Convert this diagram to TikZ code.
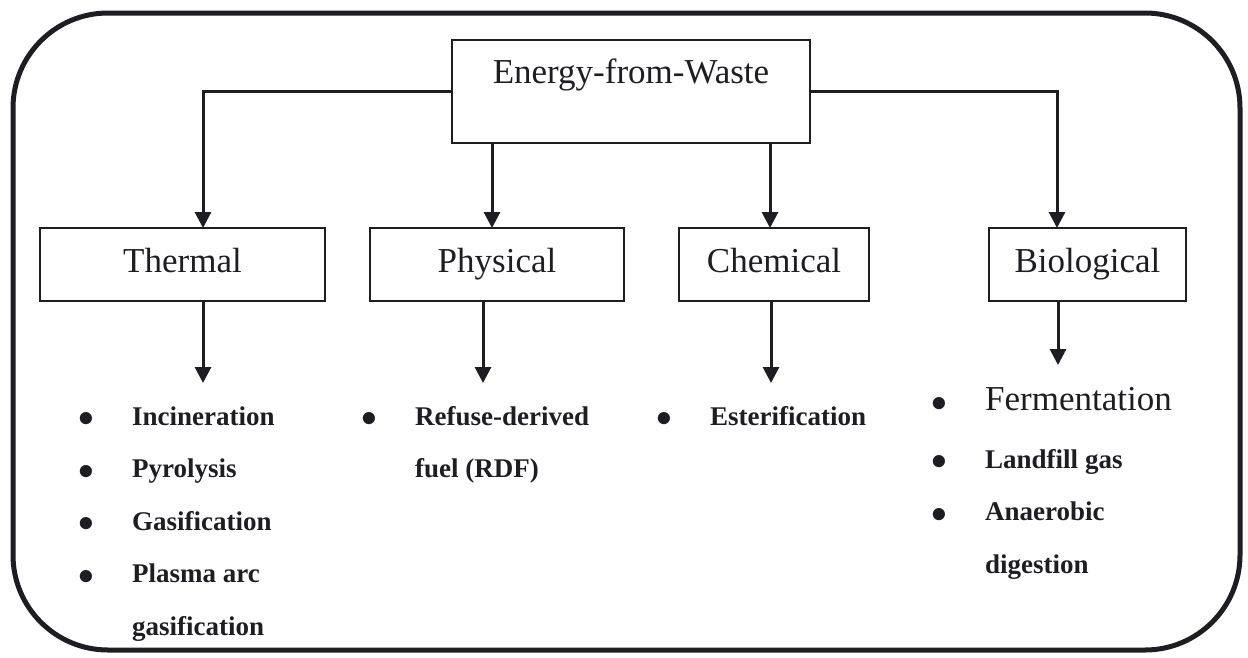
\documentclass[tikz,border=0pt]{standalone}
\usepackage{fontspec}
\setmainfont{Liberation Serif}
\usetikzlibrary{positioning,arrows.meta}
\definecolor{ink}{RGB}{30,30,34}
\newcommand\itembullet{\hspace*{-4pt}\raisebox{-8.5pt}{\fontsize{45}{45}\selectfont\textbullet}}

\begin{document}
\begin{tikzpicture}[x=1pt,y=-1pt,
    box/.style={draw=ink,line width=2pt,minimum height=73pt,inner sep=0pt,
      text height=24pt,text depth=7.6pt,text=ink,font=\fontsize{35}{42}\selectfont},
    arr/.style={-{Triangle[width=16pt,length=16pt]},line width=3pt,draw=ink},
    items/.style={anchor=base west,inner sep=0pt,text=ink,
      font=\fontsize{27}{52.5}\selectfont\bfseries}]
    \useasboundingbox (0,0) rectangle (1248,657);
    \draw[draw=ink,line width=5pt,rounded corners=95pt] (13,13) rectangle (1240,650);

    \node[draw=ink,line width=2pt,inner sep=0pt,minimum width=358pt,
      text height=43pt,text depth=60pt,text=ink,font=\fontsize{35}{42}\selectfont]
      (efw) at (631,91.5) {Energy-from-Waste};

    \node[box,minimum width=285pt] (thermal) at (182.5,264.5) {Thermal};
    \node[box,minimum width=254pt] (physical) at (497,264.5) {Physical};
    \node[box,minimum width=190pt] (chemical) at (774,264.5) {Chemical};
    \node[box,minimum width=197pt] (biological) at (1087.5,264.5) {Biological};

    % arrow ends
    \coordinate (thin) at (203,228);
    \coordinate (phin) at (492,228);
    \coordinate (chin) at (770,228);
    \coordinate (biin) at (1057,228);
    \coordinate (thout) at (203,383);
    \coordinate (phout) at (483,383);
    \coordinate (chout) at (771,383);
    \coordinate (biout) at (1058,365);

    \draw[arr] (efw.west) -| (thin);
    \draw[arr] (efw.south -| phin) -- (phin);
    \draw[arr] (efw.south -| chin) -- (chin);
    \draw[arr] (efw.east) -| (biin);

    \draw[arr] (thermal.south -| thout) -- (thout);
    \draw[arr] (physical.south -| phout) -- (phout);
    \draw[arr] (chemical.south -| chout) -- (chout);
    \draw[arr] (biological.south -| biout) -- (biout);

    % lists
    \node[items] (thlist) at (82,425) {\begin{tabular}[t]{@{}p{50pt}@{}l@{}}
      \itembullet & Incineration\\
      \itembullet & Pyrolysis\\
      \itembullet & Gasification\\
      \itembullet & Plasma arc\\
                  & gasification
    \end{tabular}};
    \node[items] (phlist) at (365,425) {\begin{tabular}[t]{@{}p{50pt}@{}l@{}}
      \itembullet & Refuse-derived\\
                  & fuel (RDF)
    \end{tabular}};
    \node[items] (chlist) at (660,425) {\begin{tabular}[t]{@{}p{50pt}@{}l@{}}
      \itembullet & Esterification
    \end{tabular}};
    \node[items] (bilist) at (935,410) {\begin{tabular}[t]{@{}p{50pt}@{}l@{}}
      \itembullet & {\fontsize{35}{42}\selectfont\mdseries Fermentation}\\[5.5pt]
      \itembullet & Landfill gas\\
      \itembullet & Anaerobic\\
                  & digestion
    \end{tabular}};
\end{tikzpicture}
\end{document}
